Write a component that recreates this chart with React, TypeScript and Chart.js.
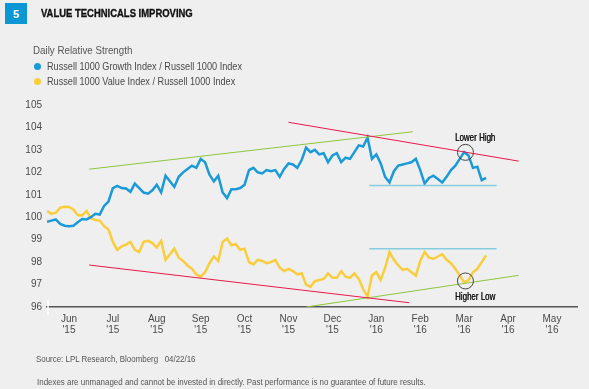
import { useEffect, useRef } from "react";
import { Chart, registerables } from "chart.js";

Chart.register(...registerables);

const FONT = '"Liberation Sans", Arial, sans-serif';

// Month tick labels (position = index + 1 in month units)
const MONTHS = ["Jun", "Jul", "Aug", "Sep", "Oct", "Nov", "Dec", "Jan", "Feb", "Mar", "Apr", "May"];
const YEARS = ["'15", "'15", "'15", "'15", "'15", "'15", "'15", "'16", "'16", "'16", "'16", "'16"];
const Y_TICKS = [96, 97, 98, 99, 100, 101, 102, 103, 104, 105];

// daily series sampled at regular steps (month units) starting at X_START
const X_START = 0.5;
const X_STEP = 0.1;

const GROWTH = [
  99.8, 99.85, 99.9, 99.7, 99.62, 99.6, 99.62, 99.78, 99.92, 99.9,
  100.0, 100.15, 100.12, 100.5, 100.7, 101.3, 101.4, 101.3, 101.28, 101.13,
  101.5, 101.3, 101.1, 101.05, 101.2, 101.45, 101.1, 101.85, 101.6, 101.35,
  101.8, 102.0, 102.15, 102.3, 102.2, 102.6, 102.45, 101.9, 101.6, 101.85,
  101.1, 100.85, 101.25, 101.25, 101.3, 101.45, 102.1, 102.2, 102.0, 101.95,
  102.1, 102.05, 102.1, 101.8, 102.15, 102.4, 102.35, 102.2, 102.55, 103.1,
  102.9, 103.0, 102.8, 102.85, 102.45, 102.75, 102.85, 102.45, 102.65, 102.6,
  102.9, 103.2, 103.15, 103.55, 102.6, 102.8, 102.4, 101.8, 101.55, 102.05,
  102.3, 102.35, 102.4, 102.45, 102.6, 102.1, 101.5, 101.75, 101.85, 101.7,
  101.55, 101.8, 102.1, 102.3, 102.6, 102.9, 102.75, 102.2, 102.25, 101.65,
  101.75,
];

const VALUE = [
  100.28, 100.15, 100.2, 100.43, 100.47, 100.46, 100.35, 100.1, 100.08, 100.28,
  99.95, 99.88, 99.85, 99.6, 99.45, 98.9, 98.55, 98.7, 98.78, 98.9,
  98.55, 98.45, 98.9, 98.95, 98.85, 98.65, 98.95, 98.1, 98.35, 98.6,
  98.2, 98.05, 97.85, 97.7, 97.45, 97.35, 97.55, 97.95, 98.25, 98.05,
  98.9, 99.05, 98.75, 98.8, 98.55, 98.6, 98.0, 97.9, 98.1, 98.05,
  97.95, 98.0, 98.1, 97.75, 97.6, 97.7, 97.6, 97.45, 97.5, 97.0,
  96.9, 97.15, 97.2, 97.25, 97.5, 97.3, 97.3, 97.6, 97.35, 97.3,
  97.5, 97.25, 96.8, 96.45, 97.4, 97.55, 97.2, 97.75, 98.45, 98.1,
  97.85, 97.65, 97.7, 97.55, 97.4, 98.05, 98.45, 98.2, 98.15, 98.25,
  98.35, 98.1, 97.95, 97.7, 97.4, 97.1, 97.2, 97.55, 97.7, 98.0,
  98.3,
];

// Trend lines: [x (month units), value]
const GROWTH_UP_TREND = [[1.46, 102.14], [8.83, 103.81]];
const GROWTH_DOWN_TREND = [[6.0, 104.23], [11.24, 102.5]];
const GROWTH_SUPPORT = [[7.84, 101.41], [10.74, 101.41]];
const VALUE_DOWN_TREND = [[1.46, 97.87], [8.75, 96.19]];
const VALUE_UP_TREND = [[6.4, 96.0], [11.24, 97.41]];
const VALUE_RESIST = [[7.84, 98.6], [10.74, 98.6]];

// Annotations
const CIRCLES = [[10.03, 102.89], [10.03, 97.16]];
const NOTES: [string, number, number][] = [
  ["Lower High", 10.25, 103.54],
  ["Higher Low", 10.25, 96.44],
];

const toPts = (arr: number[]) => arr.map((v, i) => ({ x: X_START + i * X_STEP, y: v }));
const pairPts = (arr: number[][]) => arr.map(([x, y]) => ({ x, y }));

const BLUE = "#1a9ad8";
const YELLOW = "#f9cd3c";
const GREEN = "#8dc63f";
const RED = "#e8194c";
const CYAN = "#86cde0";

const notesPlugin = {
  id: "notes",
  afterDatasetsDraw(chart: any) {
    const { ctx, scales } = chart;
    const x = scales.x;
    const y = scales.y;
    ctx.save();
    ctx.font = `10.5px ${FONT}`;
    ctx.fillStyle = "#151515";
    ctx.textAlign = "center";
    ctx.textBaseline = "middle";
    NOTES.forEach(([t, xv, yv]) => {
      const px = x.getPixelForValue(xv);
      const py = y.getPixelForValue(yv);
      ctx.save();
      ctx.translate(px, py);
      ctx.scale(0.76, 1);
      ctx.fillText(t, 0, 0);
      ctx.fillText(t, 0.3, 0);
      ctx.restore();
    });
    // small white marker at left end of axis
    ctx.strokeStyle = "#ffffff";
    ctx.lineWidth = 1.5;
    const bx = chart.chartArea.left + 1;
    const by = chart.chartArea.bottom;
    ctx.beginPath();
    ctx.moveTo(bx, by - 7);
    ctx.lineTo(bx, by + 8);
    ctx.stroke();
    ctx.restore();
  },
};

export default function App() {
  const ref = useRef<HTMLCanvasElement | null>(null);

  useEffect(() => {
    if (!ref.current) return;
    const line = (data: any[], color: string, width: number) => ({
      data,
      borderColor: color,
      borderWidth: width,
      pointRadius: 0,
      tension: 0,
      fill: false,
    });
    const chart = new Chart(ref.current, {
      type: "line",
      data: {
        datasets: [
          {
            data: pairPts(CIRCLES),
            showLine: false,
            pointRadius: 8,
            pointBorderWidth: 1,
            pointBorderColor: "#444444",
            pointBackgroundColor: "rgba(0,0,0,0)",
          } as any,
          line(pairPts(GROWTH_DOWN_TREND), RED, 1),
          line(pairPts(VALUE_DOWN_TREND), RED, 1),
          line(pairPts(GROWTH_UP_TREND), GREEN, 1),
          line(pairPts(VALUE_UP_TREND), GREEN, 1),
          line(pairPts(GROWTH_SUPPORT), CYAN, 1.5),
          line(pairPts(VALUE_RESIST), CYAN, 1.5),
          line(toPts(GROWTH), BLUE, 2.5),
          line(toPts(VALUE), YELLOW, 2.5),
        ],
      },
      options: {
        animation: false,
        responsive: false,
        devicePixelRatio: 1,
        layout: { padding: { left: 0, right: 12, top: 105, bottom: 52 } },
        plugins: { legend: { display: false }, tooltip: { enabled: false } },
        scales: {
          x: {
            type: "linear",
            min: 0.5,
            max: 12.57,
            afterBuildTicks: (s: any) => {
              s.ticks = MONTHS.map((_, i) => ({ value: i + 1 }));
            },
            afterFit: (s: any) => {
              s.height = 30;
            },
            ticks: {
              autoSkip: false,
              maxRotation: 0,
              padding: 7,
              color: "#4a4a4a",
              font: { family: FONT, size: 10, lineHeight: 1.05 },
              callback: (v: any) => {
                const i = Math.round(Number(v)) - 1;
                return [MONTHS[i], YEARS[i]];
              },
            },
            grid: { display: false, drawTicks: false },
            border: { display: true, color: "#555555", width: 1.5 },
          },
          y: {
            min: 96,
            max: 105,
            afterBuildTicks: (s: any) => {
              s.ticks = Y_TICKS.map((v) => ({ value: v }));
            },
            afterFit: (s: any) => {
              s.width = 47;
            },
            ticks: {
              padding: 5,
              color: "#4a4a4a",
              font: { family: FONT, size: 10 },
            },
            grid: { display: false, drawTicks: false },
            border: { display: false },
          },
        },
      },
      plugins: [notesPlugin],
    });
    return () => chart.destroy();
  }, []);

  const txt = (extra: any) => ({
    position: "absolute" as const,
    fontFamily: FONT,
    whiteSpace: "nowrap" as const,
    lineHeight: 1,
    transformOrigin: "left center",
    ...extra,
  });

  return (
    <div
      style={{
        position: "fixed",
        left: 0,
        top: 0,
        width: 589,
        height: 389,
        background: "#efefef",
        overflow: "hidden",
      }}
    >
      <canvas ref={ref} width={589} height={389} style={{ position: "absolute", left: 0, top: 0, display: "block" }} />
      <div
        style={{
          position: "absolute",
          left: 5,
          top: 3,
          width: 22,
          height: 21,
          background: "#0b96d4",
          color: "#fff",
          fontFamily: FONT,
          fontWeight: 700,
          fontSize: 11,
          display: "flex",
          alignItems: "center",
          justifyContent: "center",
        }}
      >
        5
      </div>
      <div style={txt({ left: 41, top: 8, fontSize: 11, fontWeight: 700, color: "#111", transform: "scaleX(0.86)", WebkitTextStroke: "0.35px #111" })}>
        VALUE TECHNICALS IMPROVING
      </div>
      <div style={txt({ left: 33, top: 45, fontSize: 10.5, color: "#555", transform: "scaleX(0.93)" })}>Daily Relative Strength</div>
      <div style={txt({ left: 33.5, top: 62.5, width: 7, height: 7, borderRadius: "50%", background: BLUE })} />
      <div style={txt({ left: 47, top: 61, fontSize: 10.5, color: "#4a4a4a", transform: "scaleX(0.87)" })}>
        Russell 1000 Growth Index / Russell 1000 Index
      </div>
      <div style={txt({ left: 33.5, top: 77.5, width: 7, height: 7, borderRadius: "50%", background: YELLOW })} />
      <div style={txt({ left: 47, top: 76, fontSize: 10.5, color: "#4a4a4a", transform: "scaleX(0.87)" })}>
        Russell 1000 Value Index / Russell 1000 Index
      </div>
      <div style={txt({ left: 36, top: 355, fontSize: 9, color: "#555", transform: "scaleX(0.88)" })}>
        Source: LPL Research, Bloomberg&nbsp;&nbsp;&nbsp;04/22/16
      </div>
      <div style={txt({ left: 37, top: 377.5, fontSize: 9, color: "#555", transform: "scaleX(0.883)" })}>
        Indexes are unmanaged and cannot be invested in directly. Past performance is no guarantee of future results.
      </div>
    </div>
  );
}
